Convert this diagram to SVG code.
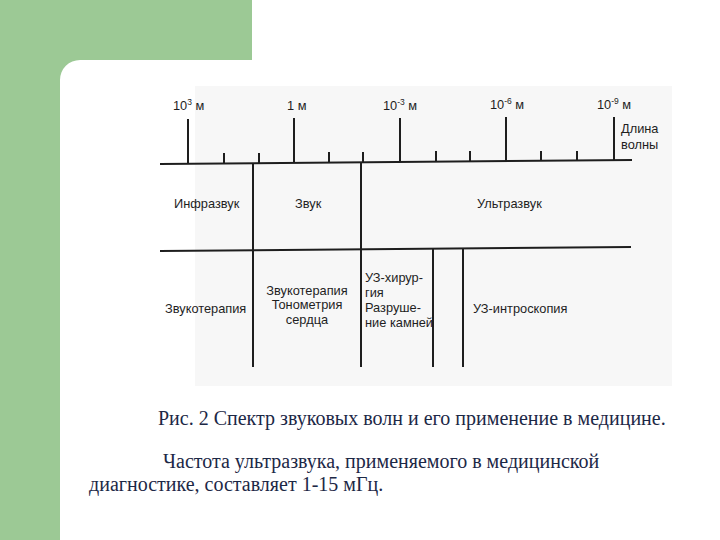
<svg xmlns="http://www.w3.org/2000/svg" width="720" height="540" viewBox="0 0 720 540">
<style>
.lbl{font-family:"Liberation Sans",Arial,sans-serif;font-size:12.8px;fill:#1e1e1e}
.sup{font-size:8.5px}
.ln{stroke:#1e1e1e;stroke-width:2;fill:none;stroke-linecap:butt}
.cap{font-family:"Liberation Serif","Times New Roman",serif;font-size:20px;fill:#1c2846}
</style>
<rect x="0" y="0" width="720" height="540" fill="#ffffff"/>
<path d="M0,0 H252 V60 H80 A20,20 0 0 0 60,80 V540 H0 Z" fill="#9cc995"/>
<rect x="195" y="86" width="477" height="300" fill="#f7f7f7"/>
<g id="connectors">
  <line class="ln" x1="160" y1="164" x2="632" y2="160"/>
  <line class="ln" x1="188" y1="119" x2="188" y2="163"/>
  <line class="ln" x1="294" y1="118" x2="294" y2="162"/>
  <line class="ln" x1="400" y1="118" x2="400" y2="162"/>
  <line class="ln" x1="506" y1="117" x2="506" y2="161"/>
  <line class="ln" x1="614" y1="117" x2="614" y2="160"/>
  <line class="ln" x1="224" y1="153" x2="224" y2="163"/>
  <line class="ln" x1="259" y1="153" x2="259" y2="163"/>
  <line class="ln" x1="329" y1="152" x2="329" y2="162"/>
  <line class="ln" x1="363" y1="152" x2="363" y2="162"/>
  <line class="ln" x1="436" y1="151" x2="436" y2="161"/>
  <line class="ln" x1="470" y1="151" x2="470" y2="161"/>
  <line class="ln" x1="541" y1="151" x2="541" y2="161"/>
  <line class="ln" x1="577" y1="151" x2="577" y2="161"/>
  <line class="ln" x1="160" y1="251" x2="631" y2="247"/>
  <line class="ln" x1="253" y1="163" x2="253" y2="367"/>
  <line class="ln" x1="361" y1="162" x2="361" y2="367"/>
  <line class="ln" x1="433" y1="249" x2="433" y2="367"/>
  <line class="ln" x1="463" y1="248" x2="463" y2="367"/>
</g>
<g id="scale-labels">
  <text class="lbl" x="173" y="110">10<tspan class="sup" dy="-5">3</tspan><tspan dy="5"> м</tspan></text>
  <text class="lbl" x="287" y="110">1 м</text>
  <text class="lbl" x="383" y="110">10<tspan class="sup" dy="-5">-3</tspan><tspan dy="5"> м</tspan></text>
  <text class="lbl" x="490" y="109">10<tspan class="sup" dy="-5">-6</tspan><tspan dy="5"> м</tspan></text>
  <text class="lbl" x="597" y="109">10<tspan class="sup" dy="-5">-9</tspan><tspan dy="5"> м</tspan></text>
  <text class="lbl" x="621" y="133">Длина</text>
  <text class="lbl" x="621" y="149">волны</text>
</g>
<g id="infrasound"><text class="lbl" x="174" y="208">Инфразвук</text></g>
<g id="sound"><text class="lbl" x="295" y="208">Звук</text></g>
<g id="ultrasound"><text class="lbl" x="477" y="208">Ультразвук</text></g>
<g id="app-infra"><text class="lbl" x="165" y="313">Звукотерапия</text></g>
<g id="app-sound">
  <text class="lbl" x="307" y="295" text-anchor="middle">Звукотерапия</text>
  <text class="lbl" x="307" y="309" text-anchor="middle">Тонометрия</text>
  <text class="lbl" x="307" y="324" text-anchor="middle">сердца</text>
</g>
<g id="app-surgery">
  <text class="lbl" x="365" y="282">УЗ-хирур-</text>
  <text class="lbl" x="365" y="297">гия</text>
  <text class="lbl" x="365" y="312">Разруше-</text>
  <text class="lbl" x="365" y="327">ние камней</text>
</g>
<g id="app-introscopy"><text class="lbl" x="473" y="313">УЗ-интроскопия</text></g>
<g id="caption">
  <text class="cap" x="158" y="425">Рис. 2 Спектр звуковых волн и его применение в медицине.</text>
  <text class="cap" x="163" y="468">Частота ультразвука, применяемого в медицинской</text>
  <text class="cap" x="89" y="491">диагностике, составляет 1-15 мГц.</text>
</g>
</svg>
